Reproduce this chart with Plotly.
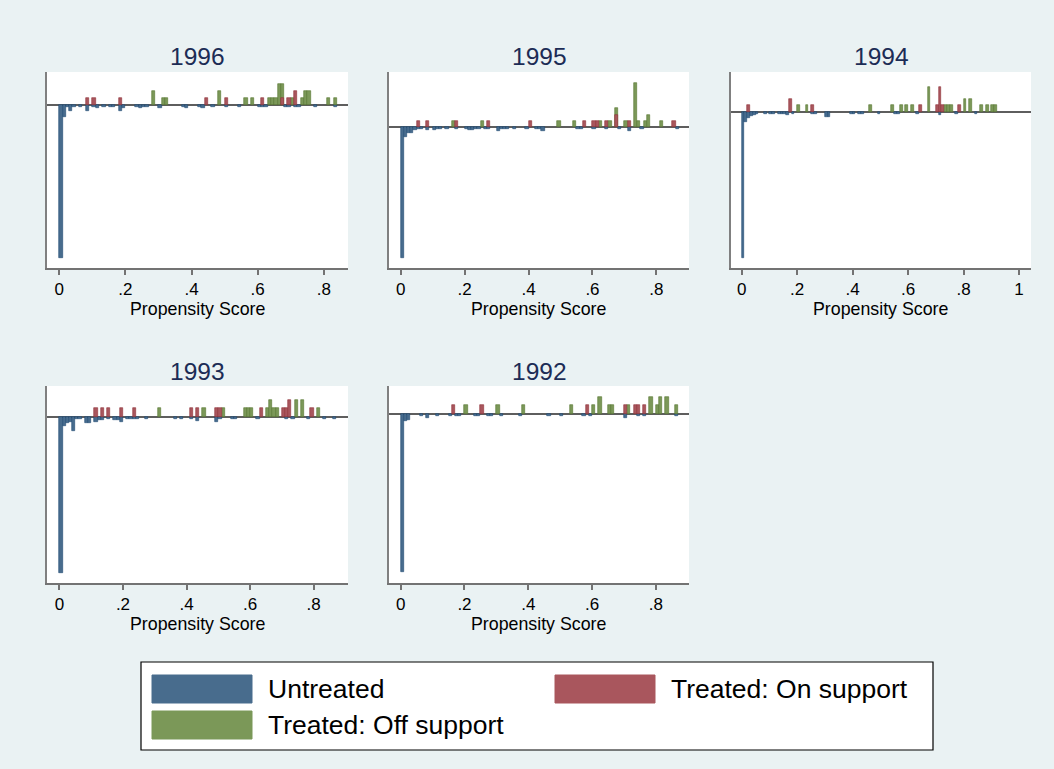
import plotly.graph_objects as go

# Propensity-score histograms by year: bin width 0.01, bins given by left edge.
BIN_W = 0.01

years = ["1996", "1995", "1994", "1993", "1992"]

# ---- 1996 ----
untreated_1996_x = [0.00, 0.01, 0.02, 0.03, 0.04, 0.06, 0.08, 0.10, 0.11, 0.13, 0.15, 0.16,
                    0.18, 0.19, 0.23, 0.24, 0.25, 0.26, 0.30, 0.37, 0.38, 0.42, 0.43, 0.46,
                    0.50, 0.54, 0.60, 0.61, 0.62, 0.68, 0.69, 0.71, 0.72, 0.77, 0.83]
untreated_1996_h = [21.9, 1.7, 0.3, 0.8, 0.3, 0.3, 0.8, 0.3, 0.5, 0.3, 0.3, 0.3,
                    0.8, 0.5, 0.3, 0.5, 0.3, 0.3, 0.5, 0.3, 0.5, 0.3, 0.5, 0.3,
                    0.3, 0.3, 0.3, 0.3, 0.3, 0.3, 0.3, 0.3, 0.3, 0.3, 0.3]
on_support_1996_x = [0.08, 0.10, 0.18, 0.44, 0.50, 0.61, 0.67, 0.69, 0.71]
on_support_1996_h = [1, 1, 1, 1, 1, 1, 1, 1, 2]
off_support_1996_x = [0.28, 0.31, 0.32, 0.48, 0.56, 0.58, 0.63, 0.64, 0.65, 0.66, 0.67,
                      0.70, 0.73, 0.74, 0.75, 0.81, 0.83]
off_support_1996_h = [2, 1, 1, 2, 1, 1, 1, 1, 1, 3, 3, 1, 1, 2, 2, 1, 1]

# ---- 1995 ----
untreated_1995_x = [0.00, 0.01, 0.02, 0.03, 0.04, 0.05, 0.06, 0.08, 0.10, 0.11, 0.12, 0.14,
                    0.17, 0.20, 0.21, 0.22, 0.23, 0.24, 0.26, 0.27, 0.30, 0.31, 0.32, 0.33,
                    0.35, 0.39, 0.42, 0.43, 0.44, 0.55, 0.56, 0.60, 0.64, 0.68, 0.71, 0.75,
                    0.86]
untreated_1995_h = [20.6, 1.5, 0.85, 0.9, 0.4, 0.35, 0.35, 0.5, 0.5, 0.3, 0.3, 0.3,
                    0.3, 0.3, 0.4, 0.5, 0.35, 0.35, 0.3, 0.3, 0.6, 0.3, 0.3, 0.3,
                    0.3, 0.3, 0.3, 0.3, 0.6, 0.3, 0.3, 0.3, 0.3, 0.3, 0.6, 0.3,
                    0.3]
on_support_1995_x = [0.05, 0.08, 0.17, 0.27, 0.40, 0.57, 0.60, 0.61, 0.64, 0.67, 0.71, 0.85]
on_support_1995_h = [1, 1, 1, 1, 1, 1, 1, 1, 1, 2, 1, 1]
off_support_1995_x = [0.16, 0.25, 0.49, 0.54, 0.62, 0.65, 0.67, 0.70, 0.73, 0.74, 0.76,
                      0.77, 0.81]
off_support_1995_h = [1, 1, 1, 1, 1, 1, 3, 1, 7, 1, 1, 2, 1]

# ---- 1994 ----
untreated_1994_x = [0.00, 0.01, 0.02, 0.03, 0.04, 0.05, 0.08, 0.10, 0.11, 0.13, 0.14, 0.15,
                    0.16, 0.18, 0.25, 0.26, 0.30, 0.31, 0.39, 0.40, 0.42, 0.43, 0.49, 0.55,
                    0.56, 0.63, 0.71, 0.77, 0.84]
untreated_1994_h = [23.2, 1.6, 0.95, 0.7, 0.5, 0.3, 0.4, 0.3, 0.3, 0.3, 0.35, 0.3,
                    0.45, 0.4, 0.3, 0.3, 0.8, 0.8, 0.3, 0.3, 0.3, 0.3, 0.4, 0.3,
                    0.3, 0.4, 0.5, 0.3, 0.3]
on_support_1994_x = [0.02, 0.17, 0.25, 0.64, 0.70, 0.71, 0.72, 0.78]
on_support_1994_h = [1, 2, 1, 1, 1, 4, 1, 1]
off_support_1994_x = [0.20, 0.23, 0.46, 0.54, 0.57, 0.59, 0.61, 0.67, 0.73, 0.74, 0.75,
                      0.80, 0.82, 0.86, 0.88, 0.90, 0.91]
off_support_1994_h = [1, 1, 1, 1, 1, 1, 1, 4, 1, 1, 1, 2, 2, 1, 1, 1, 1]

# ---- 1993 ----
untreated_1993_x = [0.00, 0.01, 0.02, 0.03, 0.04, 0.05, 0.06, 0.08, 0.09, 0.11, 0.12, 0.13,
                    0.15, 0.17, 0.18, 0.19, 0.21, 0.22, 0.23, 0.24, 0.27, 0.36, 0.38, 0.41,
                    0.43, 0.49, 0.50, 0.54, 0.55, 0.62, 0.71, 0.73, 0.78, 0.83, 0.86]
untreated_1993_h = [18.4, 1.1, 0.8, 0.6, 1.65, 0.3, 0.3, 0.75, 0.75, 0.6, 0.35, 0.35,
                    0.3, 0.35, 0.35, 0.6, 0.3, 0.3, 0.3, 0.3, 0.3, 0.3, 0.3, 0.3,
                    0.5, 0.6, 0.3, 0.3, 0.3, 0.3, 0.3, 0.3, 0.3, 0.3, 0.3]
on_support_1993_x = [0.11, 0.13, 0.15, 0.19, 0.23, 0.41, 0.43, 0.49, 0.50, 0.63, 0.70,
                     0.71, 0.72, 0.79]
on_support_1993_h = [1, 1, 1, 1, 1, 1, 1, 1, 1, 1, 1, 1, 2, 1]
off_support_1993_x = [0.31, 0.45, 0.51, 0.58, 0.59, 0.60, 0.65, 0.66, 0.67, 0.68, 0.74,
                      0.76, 0.81]
off_support_1993_h = [1, 1, 1, 1, 1, 1, 1, 2, 1, 1, 2, 2, 1]

# ---- 1992 ----
untreated_1992_x = [0.00, 0.01, 0.02, 0.06, 0.08, 0.11, 0.15, 0.17, 0.18, 0.23, 0.24, 0.27,
                    0.28, 0.31, 0.37, 0.46, 0.50, 0.57, 0.59, 0.70, 0.74, 0.76, 0.86]
untreated_1992_h = [18.1, 0.85, 0.65, 0.27, 0.4, 0.27, 0.27, 0.27, 0.27, 0.27, 0.27, 0.27,
                    0.27, 0.27, 0.27, 0.27, 0.27, 0.27, 0.27, 0.45, 0.27, 0.27, 0.27]
on_support_1992_x = [0.16, 0.25, 0.58, 0.70, 0.73, 0.74, 0.76]
on_support_1992_h = [1, 1, 1, 1, 1, 1, 1]
off_support_1992_x = [0.20, 0.30, 0.38, 0.53, 0.60, 0.62, 0.65, 0.66, 0.71, 0.78, 0.80,
                      0.81, 0.83, 0.86]
off_support_1992_h = [1, 1, 1, 1, 1, 2, 1, 1, 1, 2, 1, 2, 2, 1]

# Tick labels on the propensity-score axis
tick_vals = [0, 0.2, 0.4, 0.6, 0.8, 1.0]
tick_text = ["0", ".2", ".4", ".6", ".8", "1"]

legend_labels = ["Untreated", "Treated: On support", "Treated: Off support"]

series = {
    "1996": (untreated_1996_x, untreated_1996_h, on_support_1996_x, on_support_1996_h,
             off_support_1996_x, off_support_1996_h),
    "1995": (untreated_1995_x, untreated_1995_h, on_support_1995_x, on_support_1995_h,
             off_support_1995_x, off_support_1995_h),
    "1994": (untreated_1994_x, untreated_1994_h, on_support_1994_x, on_support_1994_h,
             off_support_1994_x, off_support_1994_h),
    "1993": (untreated_1993_x, untreated_1993_h, on_support_1993_x, on_support_1993_h,
             off_support_1993_x, off_support_1993_h),
    "1992": (untreated_1992_x, untreated_1992_h, on_support_1992_x, on_support_1992_h,
             off_support_1992_x, off_support_1992_h),
}

# ---- styling / layout ----
W, H = 1054, 769
BG = "#EAF2F3"
FONT = "Liberation Sans, Arial, Helvetica, sans-serif"
TITLE_COLOR = "#1C2C55"
AXIS_COLOR = "#737373"

COL_UNT = ("#486C8D", "#1F4A72")
COL_ON = ("#A9565D", "#8E3138")
COL_OFF = ("#7B9858", "#56762F")

# pixel boxes of each panel (left, top, right, bottom)
boxes = {
    "1996": (47, 72, 348, 268),
    "1995": (389, 72, 689, 268),
    "1994": (731, 72, 1031, 268),
    "1993": (47, 386, 348, 583),
    "1992": (389, 386, 689, 583),
}
x_ranges = {
    "1996": [-0.037, 0.873],
    "1995": [-0.0366, 0.902],
    "1994": [-0.0386, 1.043],
    "1993": [-0.039, 0.908],
    "1992": [-0.0367, 0.904],
}
y_ranges = {
    "1996": [-23.3, 4.7],
    "1995": [-22.2, 8.7],
    "1994": [-24.8, 6.3],
    "1993": [-19.6, 3.6],
    "1992": [-19.3, 3.2],
}


def px_x(px):
    return px / W


def px_y(py):
    return 1 - py / H


fig = go.Figure()
layout = {}
annotations = []
shapes = []

for i, yr in enumerate(years, start=1):
    ux, uh, onx, onh, offx, offh = series[yr]
    xa = "x" if i == 1 else f"x{i}"
    ya = "y" if i == 1 else f"y{i}"

    fig.add_trace(go.Bar(x=[v + BIN_W / 2 for v in ux], y=[-v for v in uh], width=BIN_W,
                         marker=dict(color=COL_UNT[0], line=dict(color=COL_UNT[1], width=0.6)),
                         xaxis=xa, yaxis=ya, showlegend=False, name=legend_labels[0]))
    fig.add_trace(go.Bar(x=[v + BIN_W / 2 for v in offx], y=offh, width=BIN_W,
                         marker=dict(color=COL_OFF[0], line=dict(color=COL_OFF[1], width=0.6)),
                         xaxis=xa, yaxis=ya, showlegend=False, name=legend_labels[2]))
    fig.add_trace(go.Bar(x=[v + BIN_W / 2 for v in onx], y=onh, width=BIN_W,
                         marker=dict(color=COL_ON[0], line=dict(color=COL_ON[1], width=0.6)),
                         xaxis=xa, yaxis=ya, showlegend=False, name=legend_labels[1]))

    l, t, r, b = boxes[yr]
    xr = x_ranges[yr]
    tv = [v for v in tick_vals if v <= xr[1]]
    tt = tick_text[:len(tv)]
    key_x = "xaxis" if i == 1 else f"xaxis{i}"
    key_y = "yaxis" if i == 1 else f"yaxis{i}"
    layout[key_x] = dict(domain=[px_x(l), px_x(r)], anchor=ya, range=xr,
                         tickvals=tv, ticktext=tt, ticks="outside", ticklen=5,
                         tickwidth=1.5, tickcolor=AXIS_COLOR,
                         showline=True, linecolor=AXIS_COLOR, linewidth=1.5,
                         showgrid=False, zeroline=False,
                         tickfont=dict(family=FONT, size=17, color="#000000"))
    layout[key_y] = dict(domain=[px_y(b), px_y(t)], anchor=xa, range=y_ranges[yr],
                         showticklabels=False, ticks="", showgrid=False,
                         showline=True, linecolor="#808080", linewidth=2,
                         zeroline=True, zerolinecolor="#5E5E5E", zerolinewidth=1.5)

    # panel title
    annotations.append(dict(text=yr, x=px_x((l + r) / 2), y=px_y(t - 15), xref="paper",
                            yref="paper", showarrow=False, xanchor="center", yanchor="middle",
                            font=dict(family=FONT, size=24.5, color=TITLE_COLOR)))
    # axis title
    annotations.append(dict(text="Propensity Score", x=px_x((l + r) / 2), y=px_y(b + 41),
                            xref="paper", yref="paper", showarrow=False,
                            xanchor="center", yanchor="middle",
                            font=dict(family=FONT, size=17.8, color="#000000")))

# legend box
shapes.append(dict(type="rect", xref="paper", yref="paper",
                   x0=px_x(141), x1=px_x(933), y0=px_y(750), y1=px_y(662),
                   fillcolor="white", line=dict(color="#000000", width=1.2), layer="below"))
legend_items = [
    (legend_labels[0], COL_UNT, 152, 675),
    (legend_labels[1], COL_ON, 555, 675),
    (legend_labels[2], COL_OFF, 152, 711),
]
for label, col, lx, ty in legend_items:
    shapes.append(dict(type="rect", xref="paper", yref="paper",
                       x0=px_x(lx), x1=px_x(lx + 100), y0=px_y(ty + 28), y1=px_y(ty),
                       fillcolor=col[0], line=dict(color=col[0], width=1)))
    annotations.append(dict(text=label, x=px_x(lx + 114), y=px_y(ty + 14), xref="paper",
                            yref="paper", showarrow=False, xanchor="left", yanchor="middle",
                            font=dict(family=FONT, size=26.5, color="#000000")))

fig.update_layout(**layout)
fig.update_layout(width=W, height=H, margin=dict(l=0, r=0, t=0, b=0),
                  paper_bgcolor=BG, plot_bgcolor="white", barmode="overlay",
                  bargap=0, showlegend=False, annotations=annotations, shapes=shapes)

fig.write_html("out.html")
